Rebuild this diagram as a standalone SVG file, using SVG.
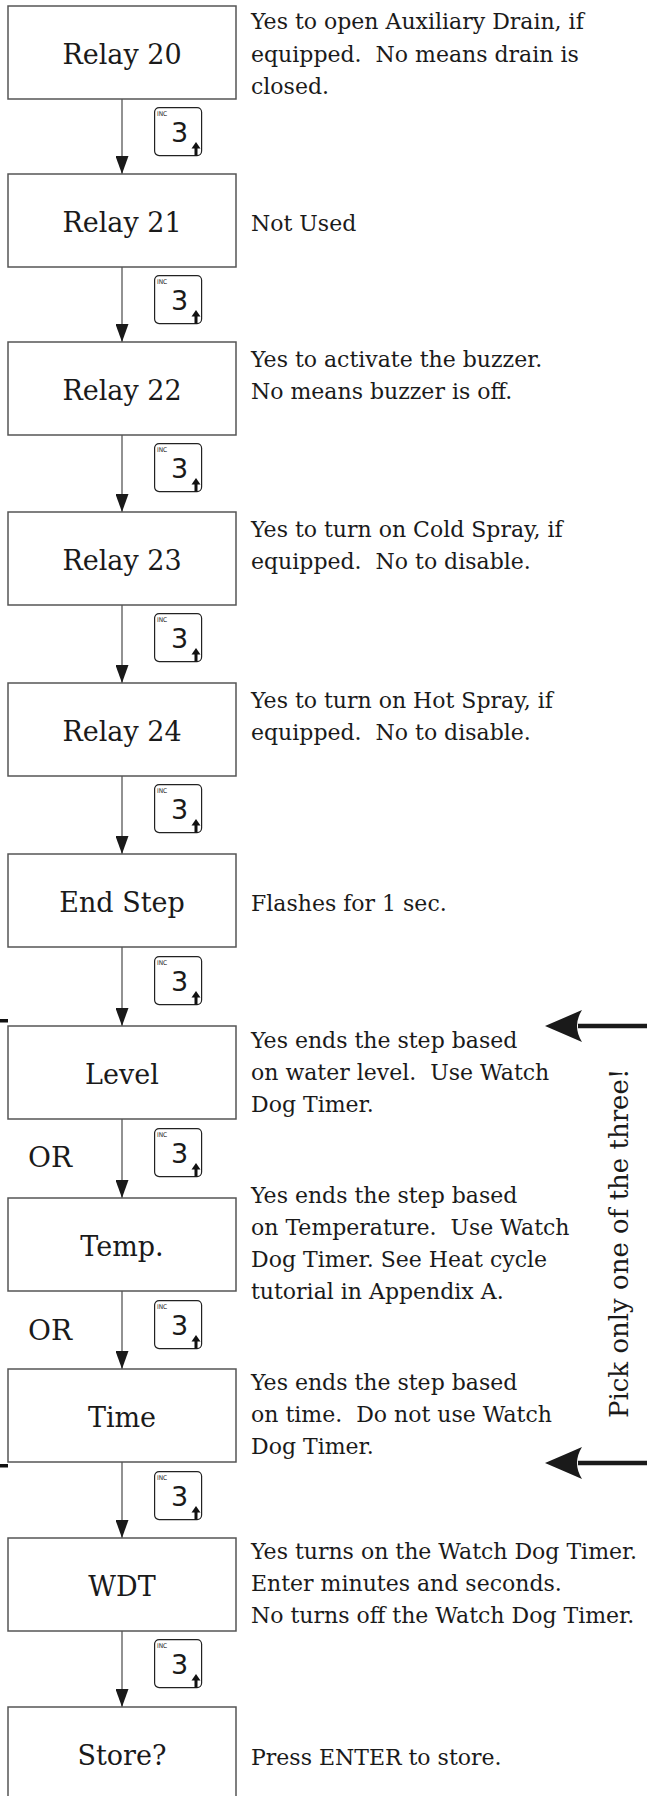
<svg xmlns="http://www.w3.org/2000/svg" xmlns:xlink="http://www.w3.org/1999/xlink" width="647" height="1796" viewBox="0 0 647 1796">
<style>
.box{fill:#fff;stroke:#555;stroke-width:1.5}
.lbl{font-family:"DejaVu Serif","Liberation Serif",serif;font-size:27px;text-anchor:middle;fill:#1a1a1a}
.desc{font-family:"DejaVu Serif","Liberation Serif",serif;font-size:22px;fill:#1a1a1a}
.or{font-family:"DejaVu Serif","Liberation Serif",serif;font-size:28px;fill:#1a1a1a}
.conn{stroke:#777;stroke-width:1.6;fill:none;marker-end:url(#ah)}
.keyr{fill:#fff;stroke:#222;stroke-width:1.2}
.inc{font-family:"DejaVu Sans Condensed","DejaVu Sans",sans-serif;font-size:6.5px;fill:#222}
.three{font-family:"DejaVu Sans",sans-serif;font-size:27px;fill:#1a1a1a}
.side{font-family:"DejaVu Serif","Liberation Serif",serif;font-size:26px;fill:#1a1a1a}
</style>
<defs>
<marker id="ah" viewBox="0 0 18 13" refX="18" refY="6.5" markerWidth="18" markerHeight="13" markerUnits="userSpaceOnUse" orient="auto">
<path d="M0,0 L18,6.5 L0,13 Z" fill="#1a1a1a"/>
</marker>
<g id="key">
<rect class="keyr" x="0.6" y="0.6" width="47" height="48" rx="4.5"/>
<text class="inc" x="3" y="9">INC</text>
<text class="three" x="17" y="35">3</text>
<path d="M42,35 L46.5,41.5 L37.5,41.5 Z" fill="#111"/>
<rect x="40.5" y="41" width="3" height="7.5" fill="#111"/>
</g>
</defs>

<g id="connectors">
<line class="conn" x1="122" y1="99" x2="122" y2="174"/>
<line class="conn" x1="122" y1="267" x2="122" y2="342"/>
<line class="conn" x1="122" y1="435" x2="122" y2="512"/>
<line class="conn" x1="122" y1="605" x2="122" y2="683"/>
<line class="conn" x1="122" y1="776" x2="122" y2="854"/>
<line class="conn" x1="122" y1="947" x2="122" y2="1026"/>
<line class="conn" x1="122" y1="1119" x2="122" y2="1198"/>
<line class="conn" x1="122" y1="1291" x2="122" y2="1369"/>
<line class="conn" x1="122" y1="1462" x2="122" y2="1538"/>
<line class="conn" x1="122" y1="1631" x2="122" y2="1707"/>
</g>

<g id="keys">
<use xlink:href="#key" x="154" y="107"/>
<use xlink:href="#key" x="154" y="275"/>
<use xlink:href="#key" x="154" y="443"/>
<use xlink:href="#key" x="154" y="613"/>
<use xlink:href="#key" x="154" y="784"/>
<use xlink:href="#key" x="154" y="956"/>
<use xlink:href="#key" x="154" y="1128"/>
<use xlink:href="#key" x="154" y="1300"/>
<use xlink:href="#key" x="154" y="1471"/>
<use xlink:href="#key" x="154" y="1639"/>
</g>

<g id="relay20">
<rect class="box" x="8" y="6" width="228" height="93"/>
<text class="lbl" x="122" y="64">Relay 20</text>
<text class="desc" xml:space="preserve"><tspan x="251" y="29">Yes to open Auxiliary Drain, if</tspan><tspan x="251" y="62">equipped.  No means drain is</tspan><tspan x="251" y="94">closed.</tspan></text>
</g>

<g id="relay21">
<rect class="box" x="8" y="174" width="228" height="93"/>
<text class="lbl" x="122" y="232">Relay 21</text>
<text class="desc" x="251" y="231">Not Used</text>
</g>

<g id="relay22">
<rect class="box" x="8" y="342" width="228" height="93"/>
<text class="lbl" x="122" y="400">Relay 22</text>
<text class="desc"><tspan x="251" y="367">Yes to activate the buzzer.</tspan><tspan x="251" y="399">No means buzzer is off.</tspan></text>
</g>

<g id="relay23">
<rect class="box" x="8" y="512" width="228" height="93"/>
<text class="lbl" x="122" y="570">Relay 23</text>
<text class="desc" xml:space="preserve"><tspan x="251" y="537">Yes to turn on Cold Spray, if</tspan><tspan x="251" y="569">equipped.  No to disable.</tspan></text>
</g>

<g id="relay24">
<rect class="box" x="8" y="683" width="228" height="93"/>
<text class="lbl" x="122" y="741">Relay 24</text>
<text class="desc" xml:space="preserve"><tspan x="251" y="708">Yes to turn on Hot Spray, if</tspan><tspan x="251" y="740">equipped.  No to disable.</tspan></text>
</g>

<g id="endstep">
<rect class="box" x="8" y="854" width="228" height="93"/>
<text class="lbl" x="122" y="912">End Step</text>
<text class="desc" x="251" y="911">Flashes for 1 sec.</text>
</g>

<g id="level">
<rect class="box" x="8" y="1026" width="228" height="93"/>
<text class="lbl" x="122" y="1084">Level</text>
<text class="desc" xml:space="preserve"><tspan x="251" y="1048">Yes ends the step based</tspan><tspan x="251" y="1080">on water level.  Use Watch</tspan><tspan x="251" y="1112">Dog Timer.</tspan></text>
</g>

<g id="or1"><text class="or" x="28" y="1167">OR</text></g>

<g id="temp">
<rect class="box" x="8" y="1198" width="228" height="93"/>
<text class="lbl" x="122" y="1256">Temp.</text>
<text class="desc" xml:space="preserve"><tspan x="251" y="1203">Yes ends the step based</tspan><tspan x="251" y="1235">on Temperature.  Use Watch</tspan><tspan x="251" y="1267">Dog Timer. See Heat cycle</tspan><tspan x="251" y="1299">tutorial in Appendix A.</tspan></text>
</g>

<g id="or2"><text class="or" x="28" y="1340">OR</text></g>

<g id="time">
<rect class="box" x="8" y="1369" width="228" height="93"/>
<text class="lbl" x="122" y="1427">Time</text>
<text class="desc" xml:space="preserve"><tspan x="251" y="1390">Yes ends the step based</tspan><tspan x="251" y="1422">on time.  Do not use Watch</tspan><tspan x="251" y="1454">Dog Timer.</tspan></text>
</g>

<g id="wdt">
<rect class="box" x="8" y="1538" width="228" height="93"/>
<text class="lbl" x="122" y="1596">WDT</text>
<text class="desc"><tspan x="251" y="1559">Yes turns on the Watch Dog Timer.</tspan><tspan x="251" y="1591">Enter minutes and seconds.</tspan><tspan x="251" y="1623">No turns off the Watch Dog Timer.</tspan></text>
</g>

<g id="store">
<rect class="box" x="8" y="1707" width="228" height="95"/>
<text class="lbl" x="122" y="1765">Store?</text>
<text class="desc" x="251" y="1765">Press ENTER to store.</text>
</g>

<g id="bracket">
<rect x="0" y="1019" width="8" height="3.5" fill="#111"/>
<rect x="0" y="1464" width="8" height="3.5" fill="#111"/>
</g>

<g id="pick-note">
<line x1="578" y1="1026" x2="647" y2="1026" stroke="#1a1a1a" stroke-width="4.5"/>
<path d="M545,1026 Q566,1017 582,1010 Q572,1026 582,1042 Q566,1035 545,1026 Z" fill="#1a1a1a"/>
<line x1="578" y1="1463" x2="647" y2="1463" stroke="#1a1a1a" stroke-width="4.5"/>
<path d="M545,1463 Q566,1454 582,1447 Q572,1463 582,1479 Q566,1472 545,1463 Z" fill="#1a1a1a"/>
<text class="side" transform="translate(628,1418) rotate(-90)" x="0" y="0">Pick only one of the three!</text>
</g>
</svg>
